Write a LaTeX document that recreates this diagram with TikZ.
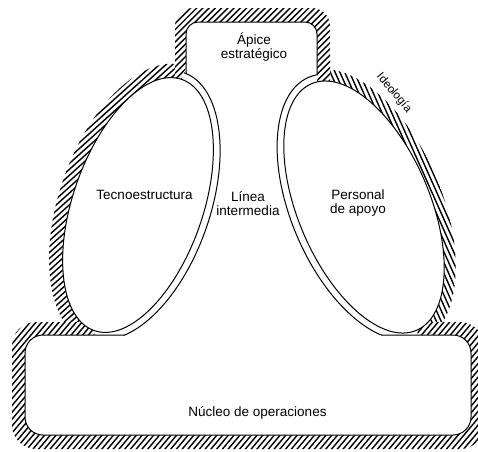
\documentclass[tikz,border=0pt]{standalone}
\usepackage{fontspec}
\setmainfont{Liberation Sans}
\begin{document}
\begin{tikzpicture}[x=1pt,y=-1pt,
  outline/.style={line width=1pt, draw=black},
  hatchline/.style={line width=1.4pt, black},
  lbl/.style={font=\fontsize{13.5}{14}\selectfont, align=center, inner sep=0pt},
  rotL/.style={rotate around={70.8:(138,205)}},
  rotR/.style={rotate around={113:(364,207)}}
]
\useasboundingbox (0,0) rectangle (478,451);
\fill[white] (0,0) rectangle (478,451);

% ideology band round the technostructure
\begin{scope}
  \clip[rotL] (138,205) ellipse [x radius=147, y radius=79];
  \begin{scope}[rotate around={42:(138,205)}]
    \foreach \i in {-200,-195.6,...,200}
      \draw[hatchline] (-62,205+\i) -- (338,205+\i);
  \end{scope}
\end{scope}
% ideology band round the support staff
\begin{scope}
  \clip[rotR] (364,207) ellipse [x radius=146, y radius=78];
  \begin{scope}[rotate around={-66:(364,207)}]
    \foreach \i in {-200,-195.6,...,200}
      \draw[hatchline] (164,207+\i) -- (564,207+\i);
  \end{scope}
\end{scope}
% band round the strategic apex
\fill[white, rounded corners=18pt] (175,8) rectangle (330,100);
\begin{scope}
  \clip[rounded corners=18pt] (175,8) rectangle (330,100);
  \begin{scope}[rotate around={45:(252,54)}]
    \foreach \i in {-120,-115.6,...,120}
      \draw[hatchline] (132,54+\i) -- (372,54+\i);
  \end{scope}
\end{scope}
% band round the operating core
\fill[white, rounded corners=24pt] (12,322) rectangle (484,449);
\begin{scope}
  \clip[rounded corners=24pt] (12,322) rectangle (484,449);
  \begin{scope}[rotate around={50:(248,385)}]
    \foreach \i in {-260,-255.6,...,260}
      \draw[hatchline] (-12,385+\i) -- (508,385+\i);
  \end{scope}
\end{scope}

% white interiors
\fill[white, rounded corners=12pt] (186,22) rectangle (317,100);
\fill[white, rounded corners=18pt] (25,335) rectangle (471,435);
\fill[white] (94.3,330.6) -- (188.3,60.5) -- (302,61) -- (317,95) -- (417.6,333) -- (417.6,336) -- (94.3,336) -- cycle;
\fill[white, rotL] (138,205) ellipse [x radius=133, y radius=65];
\fill[white, rotR] (364,207) ellipse [x radius=134, y radius=66];

% outlines
\draw[outline, rotL] (138,205) ellipse [x radius=133, y radius=65];
\draw[outline, rotR] (364,207) ellipse [x radius=134, y radius=66];
\begin{scope}
  \clip (94.3,330.6) -- (188.3,60.5) -- (250,60.5) -- (250,335) -- (94.3,335) -- cycle;
  \draw[outline, rotL] (138,205) ellipse [x radius=140, y radius=72];
\end{scope}
\begin{scope}
  \clip (250,55) -- (317,55) -- (317,95) -- (417.6,332) -- (417.6,335) -- (250,335) -- cycle;
  \draw[outline, rotR] (364,207) ellipse [x radius=141, y radius=73];
\end{scope}
\draw[outline, rounded corners=12pt] (186,74) -- (186,22) -- (317,22) -- (317,75);
\draw[outline, rounded corners=18pt] (125,335) -- (25,335) -- (25,435) -- (471,435) -- (471,335) -- (381,335);

% labels
\node[lbl] (apice) at (254,47) {Ápice\\estratégico};
\node[lbl] (linea) at (248,204) {Línea\\intermedia};
\node[lbl] (tecno) at (144.5,195) {Tecnoestructura};
\node[lbl] (personal) at (358,203) {Personal\\de apoyo};
\node[lbl] (nucleo) at (257.5,413) {Núcleo de operaciones};
\node[lbl, font=\fontsize{11.5}{12}\selectfont, rotate=-50] (ideologia) at (394,93) {Ideología};
\end{tikzpicture}
\end{document}
